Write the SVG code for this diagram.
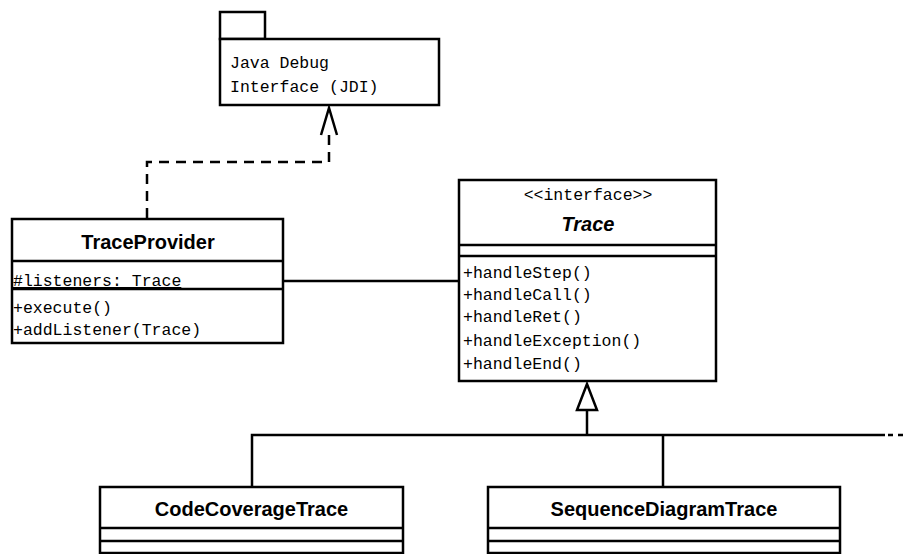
<svg xmlns="http://www.w3.org/2000/svg" width="909" height="554" viewBox="0 0 909 554">
<style>
.box{fill:#fff;stroke:#000;stroke-width:2.5}
.ln{fill:none;stroke:#000;stroke-width:2.5}
.dash{fill:none;stroke:#000;stroke-width:2.5;stroke-dasharray:10 7}
.mono{font-family:"Liberation Mono","Courier New",monospace;font-size:16.5px;fill:#000}
.nm{font-family:"Liberation Sans",Arial,sans-serif;font-size:20px;font-weight:bold;fill:#000;text-anchor:middle}
</style>
<rect width="909" height="554" fill="#fff"/>
<g id="connectors">
  <path class="dash" d="M147,218 V162 H329 V132"/>
  <path class="ln" d="M321,135 L329,108 L337,135"/>
  <path class="ln" d="M283,281 H459"/>
  <path class="ln" d="M252,487 V435 H885"/>
  <path class="dash" d="M888,435 H906" style="stroke-dasharray:5 5"/>
  <path class="ln" d="M587,435 V410"/>
  <path class="ln" d="M663,435 V487"/>
  <path class="box" d="M587,384 L577,410 H597 Z"/>
</g>
<g id="jdi">
  <rect class="box" x="220" y="12" width="45" height="27"/>
  <rect class="box" x="220" y="39" width="219" height="66"/>
  <text class="mono" x="230" y="68">Java Debug</text>
  <text class="mono" x="230" y="92">Interface (JDI)</text>
</g>
<g id="traceprovider">
  <rect class="box" x="12" y="219" width="271" height="124"/>
  <path class="ln" d="M12,261 H283 M12,289 H283"/>
  <text class="nm" x="148" y="249">TraceProvider</text>
  <text class="mono" x="13" y="286" text-decoration="underline">#listeners: Trace</text>
  <text class="mono" x="13" y="313">+execute()</text>
  <text class="mono" x="13" y="335">+addListener(Trace)</text>
</g>
<g id="trace">
  <rect class="box" x="459" y="180" width="257" height="201"/>
  <path class="ln" d="M459,245 H716 M459,256 H716"/>
  <text class="mono" x="588" y="200" text-anchor="middle">&lt;&lt;interface&gt;&gt;</text>
  <text class="nm" x="588" y="231" font-style="italic">Trace</text>
  <text class="mono" x="463" y="278">+handleStep()</text>
  <text class="mono" x="463" y="300">+handleCall()</text>
  <text class="mono" x="463" y="322">+handleRet()</text>
  <text class="mono" x="463" y="346">+handleException()</text>
  <text class="mono" x="463" y="369">+handleEnd()</text>
</g>
<g id="codecoverage">
  <rect class="box" x="100" y="487" width="303" height="66"/>
  <path class="ln" d="M100,528 H403 M100,541 H403"/>
  <text class="nm" x="251.5" y="516">CodeCoverageTrace</text>
</g>
<g id="sequencediagram">
  <rect class="box" x="488" y="487" width="352" height="66"/>
  <path class="ln" d="M488,528 H840 M488,541 H840"/>
  <text class="nm" x="664" y="516">SequenceDiagramTrace</text>
</g>
</svg>
